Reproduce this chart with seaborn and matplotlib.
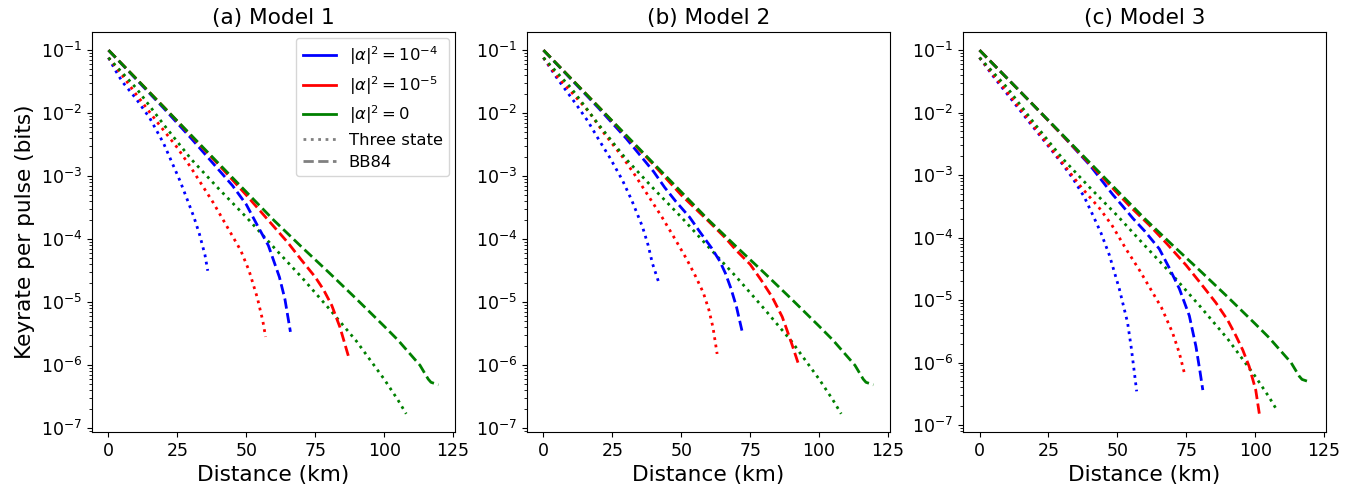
import matplotlib
matplotlib.use("Agg")
import matplotlib.pyplot as plt
from matplotlib.lines import Line2D
import numpy as np
import seaborn as sns

# Values are log10 of key rate per pulse
# alpha^2 = 0 (identical in every model)
green_bb84_d = [0, 10, 20, 30, 40, 50, 60, 70, 80, 90, 100, 105, 110, 113, 116, 117, 119.7]
green_bb84_lg = [-1.00, -1.45, -1.90, -2.35, -2.80, -3.25, -3.70, -4.12, -4.53, -4.95,
                 -5.38, -5.60, -5.85, -6.00, -6.22, -6.27, -6.31]
green_three_d = [0, 10, 20, 30, 40, 50, 60, 70, 80, 90, 95, 100, 105, 108]
green_three_lg = [-1.12, -1.60, -2.18, -2.73, -3.20, -3.65, -4.13, -4.60, -5.10, -5.62,
                  -5.92, -6.22, -6.55, -6.77]

# (a) Model 1
a_blue_bb84_d = [0, 10, 20, 30, 40, 45, 50, 54, 58, 62, 64, 66]
a_blue_bb84_lg = [-1.0, -1.46, -1.92, -2.40, -2.90, -3.15, -3.45, -3.78, -4.10, -4.60, -4.95, -5.47]
a_red_bb84_d = [0, 10, 20, 30, 40, 50, 55, 60, 65, 70, 75, 78, 81, 84, 86, 87]
a_red_bb84_lg = [-1.0, -1.45, -1.90, -2.36, -2.82, -3.30, -3.55, -3.80, -4.05, -4.33,
                 -4.60, -4.80, -5.05, -5.40, -5.70, -5.85]
a_blue_three_d = [0, 2.5, 5, 10, 15, 20, 23, 26, 29, 31, 33, 35, 36]
a_blue_three_lg = [-1.12, -1.32, -1.50, -1.77, -2.08, -2.48, -2.78, -3.08, -3.42, -3.65,
                   -3.92, -4.25, -4.50]
a_red_three_d = [0, 5, 10, 18, 25, 30, 38, 43, 48, 51, 54, 56, 57]
a_red_three_lg = [-1.12, -1.40, -1.70, -2.16, -2.55, -2.87, -3.42, -3.80, -4.18, -4.50,
                  -4.93, -5.30, -5.55]

# (b) Model 2
b_blue_bb84_d = [0, 10, 20, 30, 40, 44, 48, 53, 57, 61, 64, 66, 68, 70, 72]
b_blue_bb84_lg = [-1.0, -1.46, -1.92, -2.40, -2.93, -3.18, -3.40, -3.65, -3.90, -4.14,
                  -4.35, -4.54, -4.78, -5.07, -5.45]
b_red_bb84_d = [0, 10, 20, 30, 40, 50, 60, 66, 70, 75, 79, 83, 86.6, 88, 90, 92.5]
b_red_bb84_lg = [-1.0, -1.45, -1.90, -2.36, -2.82, -3.30, -3.72, -3.98, -4.18, -4.40,
                 -4.65, -4.92, -5.23, -5.40, -5.65, -5.98]
b_blue_three_d = [0, 5, 11.7, 16, 20.2, 24, 28.6, 32, 35.9, 38, 39.5, 41.7]
b_blue_three_lg = [-1.12, -1.45, -1.85, -2.12, -2.43, -2.70, -3.06, -3.38, -3.80, -4.10,
                   -4.38, -4.67]
b_red_three_d = [0, 5, 10, 16.5, 22, 28.6, 33, 38.3, 43, 47.9, 52, 55.2, 58, 60, 61.5, 63]
b_red_three_lg = [-1.12, -1.42, -1.66, -1.98, -2.32, -2.69, -2.97, -3.33, -3.65, -4.01,
                  -4.32, -4.59, -4.85, -5.12, -5.40, -5.82]

# (c) Model 3
c_blue_bb84_d = [0, 10, 20, 30, 40, 48.3, 52, 55.6, 60, 65.2, 69, 72.5, 76.1, 78.5, 80, 81]
c_blue_bb84_lg = [-1.0, -1.45, -1.90, -2.36, -2.84, -3.31, -3.50, -3.69, -3.90, -4.18,
                  -4.50, -4.82, -5.25, -5.74, -6.15, -6.44]
c_red_bb84_d = [0, 10, 20, 30, 40, 50, 55, 61.6, 68, 74.9, 80, 85.7, 90, 93, 95.5, 97.8,
                100.2, 101.5]
c_red_bb84_lg = [-1.0, -1.45, -1.90, -2.36, -2.82, -3.29, -3.52, -3.80, -4.10, -4.44,
                 -4.72, -5.04, -5.32, -5.57, -5.80, -6.06, -6.44, -6.82]
c_blue_three_d = [0, 5, 10.9, 18, 25.4, 30, 33.8, 38, 41.1, 44, 47.1, 50.7, 53.7, 55, 56, 57]
c_blue_three_lg = [-1.12, -1.42, -1.75, -2.15, -2.56, -2.82, -3.05, -3.35, -3.64, -3.92,
                   -4.28, -4.82, -5.36, -5.75, -6.10, -6.46]
c_red_three_d = [0, 5, 10, 20, 31.4, 37, 43.5, 48, 53.1, 58, 62.8, 66, 70, 72.5, 74.6]
c_red_three_lg = [-1.12, -1.40, -1.67, -2.24, -2.88, -3.20, -3.53, -3.80, -4.18, -4.52,
                  -4.88, -5.12, -5.52, -5.85, -6.22]

titles = ['(a) Model 1', '(b) Model 2', '(c) Model 3']
panels = [
    [(a_blue_three_d, a_blue_three_lg), (a_red_three_d, a_red_three_lg),
     (a_blue_bb84_d, a_blue_bb84_lg), (a_red_bb84_d, a_red_bb84_lg)],
    [(b_blue_three_d, b_blue_three_lg), (b_red_three_d, b_red_three_lg),
     (b_blue_bb84_d, b_blue_bb84_lg), (b_red_bb84_d, b_red_bb84_lg)],
    [(c_blue_three_d, c_blue_three_lg), (c_red_three_d, c_red_three_lg),
     (c_blue_bb84_d, c_blue_bb84_lg), (c_red_bb84_d, c_red_bb84_lg)],
]

fig = plt.figure(figsize=(13.67, 4.91), dpi=100)
lefts = [0.0673, 0.3855, 0.7045]

for i, ax_left in enumerate(lefts):
    ax = fig.add_axes([ax_left, 0.1202, 0.2655, 0.8147])
    blue3, red3, blue84, red84 = panels[i]

    # Three state (dotted)
    for (d, lg), col in [(blue3, 'blue'), (red3, 'red'), ((green_three_d, green_three_lg), 'green')]:
        sns.lineplot(x=d, y=10.0 ** np.array(lg), ax=ax, color=col,
                     linestyle=':', linewidth=2, sort=False)
    # BB84 (dashed)
    for (d, lg), col in [(blue84, 'blue'), (red84, 'red'), ((green_bb84_d, green_bb84_lg), 'green')]:
        sns.lineplot(x=d, y=10.0 ** np.array(lg), ax=ax, color=col,
                     linestyle='--', linewidth=2, sort=False)

    ax.set_yscale('log')
    ax.set_xticks([0, 25, 50, 75, 100, 125])
    ax.tick_params(labelsize=12.5)
    ax.set_title(titles[i], fontsize=15.6)
    ax.set_xlabel('Distance (km)', fontsize=15.6)
    if i == 0:
        ax.set_ylabel('Keyrate per pulse (bits)', fontsize=15.6)
        handles = [
            Line2D([], [], color='blue', linewidth=2),
            Line2D([], [], color='red', linewidth=2),
            Line2D([], [], color='green', linewidth=2),
            Line2D([], [], color='gray', linestyle=':', linewidth=2),
            Line2D([], [], color='gray', linestyle='--', linewidth=2),
        ]
        labels = [r'$|\alpha|^2 = 10^{-4}$', r'$|\alpha|^2 = 10^{-5}$',
                  r'$|\alpha|^2 = 0$', 'Three state', 'BB84']
        ax.legend(handles, labels, loc='upper right', fontsize=11.8,
                  labelspacing=0.42, borderaxespad=0.35)
    else:
        ax.set_ylabel('')

fig.savefig('out.png', dpi=100)
